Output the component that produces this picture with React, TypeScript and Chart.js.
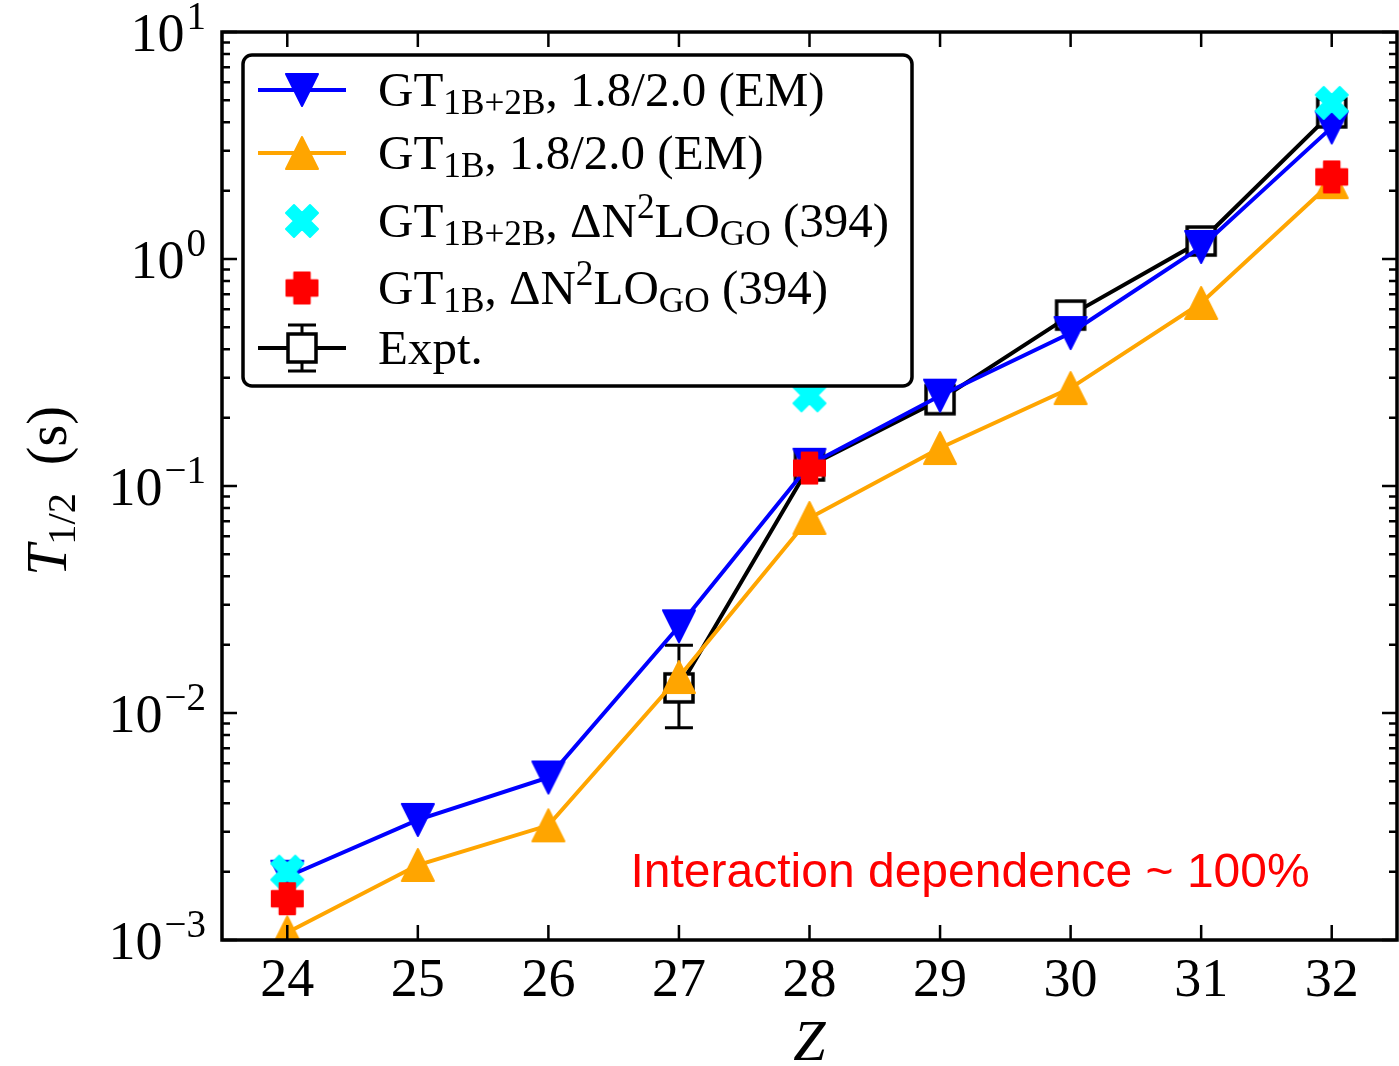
import React, { useEffect, useRef } from 'react';
import { Chart, registerables } from 'chart.js';

Chart.register(...registerables);

// ---------------- data ----------------
const zValues = [24, 25, 26, 27, 28, 29, 30, 31, 32];
const xTickValues = [24, 25, 26, 27, 28, 29, 30, 31, 32];
const yTickExponents = [-3, -2, -1, 0, 1];
const yMinorMultipliers = [2, 3, 4, 5, 6, 7, 8, 9];

const halfLifeGT1B2B_EM = [0.0019, 0.00338, 0.0052, 0.0241, 0.124, 0.25, 0.472, 1.13, 3.8];
const halfLifeGT1B_EM = [0.00108, 0.00214, 0.0032, 0.0144, 0.0723, 0.147, 0.27, 0.64, 2.18];
const halfLifeGT1B2B_Delta = [0.002, null, null, null, 0.251, null, null, null, 4.87];
const halfLifeGT1B_Delta = [0.00152, null, null, null, 0.12, null, null, null, 2.3];
const halfLifeExpt = [null, null, null, 0.0129, 0.1225, 0.24, 0.566, 1.2, 4.4];
const exptErrLower = [null, null, null, 0.0086, null, null, null, null, null];
const exptErrUpper = [null, null, null, 0.0199, null, null, null, null, null];

const datasetLabels = [
  'GT1B+2B, 1.8/2.0 (EM)',
  'GT1B, 1.8/2.0 (EM)',
  'GT1B+2B, ΔN2LOGO (394)',
  'GT1B, ΔN2LOGO (394)',
  'Expt.',
];

type Seg = { t: string; k?: 'sub' | 'sup' };
const legendRich: Seg[][] = [
  [{ t: 'GT' }, { t: '1B+2B', k: 'sub' }, { t: ', 1.8/2.0 (EM)' }],
  [{ t: 'GT' }, { t: '1B', k: 'sub' }, { t: ', 1.8/2.0 (EM)' }],
  [{ t: 'GT' }, { t: '1B+2B', k: 'sub' }, { t: ', ΔN' }, { t: '2', k: 'sup' }, { t: 'LO' }, { t: 'GO', k: 'sub' }, { t: ' (394)' }],
  [{ t: 'GT' }, { t: '1B', k: 'sub' }, { t: ', ΔN' }, { t: '2', k: 'sup' }, { t: 'LO' }, { t: 'GO', k: 'sub' }, { t: ' (394)' }],
  [{ t: 'Expt.' }],
];

const yTitle: Seg[] = [{ t: 'T' }, { t: '1/2', k: 'sub' }, { t: '  (s)' }];
const xTitle = 'Z';

const annotationText = 'Interaction dependence ~ 100%';
const annotationZ = 29.23;
const annotationT = 0.00195;

const BLUE = '#0000ff';
const ORANGE = '#ffa500';
const CYAN = '#00ffff';
const RED = '#ff0000';
const BLACK = '#000000';
const SERIF = '"Liberation Serif", "Times New Roman", serif';

// ---------------- marker images ----------------
function makeMarker(kind: string, color: string, size: number): HTMLCanvasElement {
  const pad = 4;
  const s = Math.ceil(size + pad * 2);
  const c = document.createElement('canvas');
  c.width = s;
  c.height = s;
  const ctx = c.getContext('2d') as CanvasRenderingContext2D;
  ctx.translate(s / 2, s / 2);
  const h = size / 2;
  const u = size / 4;
  ctx.beginPath();
  let pts: number[][] = [];
  if (kind === 'down') {
    pts = [[-h, -h], [h, -h], [0, h]];
  } else if (kind === 'up') {
    pts = [[-h, h], [h, h], [0, -h]];
  } else if (kind === 'plus') {
    pts = [[-1, -2], [-1, -1], [-2, -1], [-2, 1], [-1, 1], [-1, 2], [1, 2], [1, 1], [2, 1], [2, -1], [1, -1], [1, -2]].map((p) => [p[0] * u, p[1] * u]);
  } else if (kind === 'x') {
    pts = [[-1, -2], [0, -1], [1, -2], [2, -1], [1, 0], [2, 1], [1, 2], [0, 1], [-1, 2], [-2, 1], [-1, 0], [-2, -1]].map((p) => [p[0] * u, p[1] * u]);
  } else if (kind === 'square') {
    pts = [[-h, -h], [h, -h], [h, h], [-h, h]];
  }
  pts.forEach((p, i) => (i ? ctx.lineTo(p[0], p[1]) : ctx.moveTo(p[0], p[1])));
  ctx.closePath();
  if (kind === 'square') {
    ctx.fillStyle = '#ffffff';
    ctx.fill();
    ctx.lineWidth = 3.5;
    ctx.lineJoin = 'miter';
    ctx.strokeStyle = color;
    ctx.stroke();
  } else {
    ctx.fillStyle = color;
    ctx.fill();
    ctx.lineJoin = 'round';
    ctx.lineWidth = 2;
    ctx.strokeStyle = color;
    ctx.stroke();
  }
  return c;
}

function drawRich(ctx: CanvasRenderingContext2D, segs: Seg[], x: number, baseline: number, size: number, italicFirst = false) {
  let cx = x;
  segs.forEach((s, i) => {
    const fs = s.k ? size * 0.72 : size;
    const style = italicFirst && i === 0 ? 'italic ' : '';
    ctx.font = `${style}${fs}px ${SERIF}`;
    const dy = s.k === 'sub' ? size * 0.16 : s.k === 'sup' ? -size * 0.38 : 0;
    ctx.fillText(s.t, cx, baseline + dy);
    cx += ctx.measureText(s.t).width;
  });
  return cx - x;
}

function richWidth(ctx: CanvasRenderingContext2D, segs: Seg[], size: number, italicFirst = false) {
  let w = 0;
  segs.forEach((s, i) => {
    const fs = s.k ? size * 0.72 : size;
    const style = italicFirst && i === 0 ? 'italic ' : '';
    ctx.font = `${style}${fs}px ${SERIF}`;
    w += ctx.measureText(s.t).width;
  });
  return w;
}

export default function App() {
  const ref = useRef<HTMLCanvasElement | null>(null);

  useEffect(() => {
    const canvas = ref.current;
    if (!canvas) return;

    const mDown = makeMarker('down', BLUE, 32);
    const mUp = makeMarker('up', ORANGE, 32);
    const mX = makeMarker('x', CYAN, 32);
    const mPlus = makeMarker('plus', RED, 31);
    const mSquare = makeMarker('square', BLACK, 28);
    const legendMarkers = [mDown, mUp, mX, mPlus, mSquare];
    const legendColors = [BLUE, ORANGE, null, null, BLACK];

    const toPoints = (arr: (number | null)[]) => zValues.map((z, i) => ({ x: z, y: arr[i] }));

    const errorBars = {
      id: 'errorBars',
      beforeDatasetsDraw(chart: any) {
        const { ctx, scales } = chart;
        ctx.save();
        ctx.strokeStyle = BLACK;
        ctx.lineWidth = 3;
        zValues.forEach((z, i) => {
          const lo = exptErrLower[i];
          const hi = exptErrUpper[i];
          if (lo == null || hi == null) return;
          const px = scales.x.getPixelForValue(z);
          const y1 = scales.y.getPixelForValue(hi);
          const y2 = scales.y.getPixelForValue(lo);
          ctx.beginPath();
          ctx.moveTo(px, y1);
          ctx.lineTo(px, y2);
          ctx.moveTo(px - 14, y1);
          ctx.lineTo(px + 14, y1);
          ctx.moveTo(px - 14, y2);
          ctx.lineTo(px + 14, y2);
          ctx.stroke();
        });
        ctx.restore();
      },
    };

    const frame = {
      id: 'frame',
      afterDatasetsDraw(chart: any) {
        const { ctx, chartArea: a, scales } = chart;
        ctx.save();
        ctx.strokeStyle = BLACK;
        ctx.lineWidth = 2.5;
        const majorLen = 15;
        const minorLen = 8;
        ctx.beginPath();
        xTickValues.forEach((v) => {
          const px = scales.x.getPixelForValue(v);
          ctx.moveTo(px, a.bottom);
          ctx.lineTo(px, a.bottom - majorLen);
          ctx.moveTo(px, a.top);
          ctx.lineTo(px, a.top + majorLen);
        });
        yTickExponents.forEach((e) => {
          const py = scales.y.getPixelForValue(Math.pow(10, e));
          ctx.moveTo(a.left, py);
          ctx.lineTo(a.left + majorLen, py);
          ctx.moveTo(a.right, py);
          ctx.lineTo(a.right - majorLen, py);
        });
        yTickExponents.slice(0, -1).forEach((e) => {
          yMinorMultipliers.forEach((m) => {
            const py = scales.y.getPixelForValue(m * Math.pow(10, e));
            ctx.moveTo(a.left, py);
            ctx.lineTo(a.left + minorLen, py);
            ctx.moveTo(a.right, py);
            ctx.lineTo(a.right - minorLen, py);
          });
        });
        ctx.stroke();
        ctx.lineWidth = 3.5;
        ctx.strokeRect(a.left, a.top, a.right - a.left, a.bottom - a.top);

        // y tick labels with superscripts
        ctx.fillStyle = BLACK;
        ctx.textBaseline = 'alphabetic';
        ctx.textAlign = 'left';
        yTickExponents.forEach((e) => {
          const py = scales.y.getPixelForValue(Math.pow(10, e));
          const base = '10';
          const sup = e < 0 ? '\u2212' + String(-e) : String(e);
          ctx.font = `54px ${SERIF}`;
          const bw = ctx.measureText(base).width;
          ctx.font = `39px ${SERIF}`;
          const sw = ctx.measureText(sup).width;
          const right = a.left - 16;
          const x0 = right - sw - bw - 2;
          ctx.font = `54px ${SERIF}`;
          ctx.fillText(base, x0, py + 19);
          ctx.font = `39px ${SERIF}`;
          ctx.fillText(sup, x0 + bw + 2, py - 3);
        });

        // y title
        const tsize = 56;
        const tw = richWidth(ctx, yTitle, tsize, true);
        ctx.save();
        ctx.translate(66, (a.top + a.bottom) / 2 + 5);
        ctx.rotate(-Math.PI / 2);
        drawRich(ctx, yTitle, -tw / 2, 0, tsize, true);
        ctx.restore();
        ctx.restore();
      },
    };

    const overlay = {
      id: 'overlay',
      afterDraw(chart: any) {
        const { ctx, scales } = chart;
        ctx.save();
        // annotation
        ctx.fillStyle = RED;
        ctx.font = `48px "Liberation Sans", Arial, sans-serif`;
        ctx.textAlign = 'center';
        ctx.textBaseline = 'middle';
        ctx.fillText(annotationText, scales.x.getPixelForValue(annotationZ), scales.y.getPixelForValue(annotationT));

        // legend
        const bx = 243, by = 55, bw = 669, bh = 331;
        ctx.beginPath();
        ctx.roundRect(bx, by, bw, bh, 9);
        ctx.fillStyle = '#ffffff';
        ctx.fill();
        ctx.lineWidth = 3.5;
        ctx.strokeStyle = BLACK;
        ctx.stroke();
        const rows = [90, 153, 221, 288, 348];
        ctx.textAlign = 'left';
        ctx.textBaseline = 'alphabetic';
        rows.forEach((yc, i) => {
          const col = legendColors[i];
          if (i === 4) {
            ctx.strokeStyle = BLACK;
            ctx.lineWidth = 3;
            ctx.beginPath();
            ctx.moveTo(302, yc - 23);
            ctx.lineTo(302, yc + 23);
            ctx.moveTo(288, yc - 23);
            ctx.lineTo(316, yc - 23);
            ctx.moveTo(288, yc + 23);
            ctx.lineTo(316, yc + 23);
            ctx.stroke();
          }
          if (col) {
            ctx.strokeStyle = col;
            ctx.lineWidth = 4;
            ctx.beginPath();
            ctx.moveTo(258, yc);
            ctx.lineTo(346, yc);
            ctx.stroke();
          }
          const m = legendMarkers[i];
          ctx.drawImage(m, 302 - m.width / 2, yc - m.height / 2);
          ctx.fillStyle = BLACK;
          drawRich(ctx, legendRich[i], 378, yc + 16, 49);
        });
        ctx.restore();
      },
    };

    const chart = new Chart(canvas, {
      type: 'line',
      data: {
        datasets: [
          {
            label: datasetLabels[0],
            data: toPoints(halfLifeGT1B2B_EM),
            borderColor: BLUE,
            backgroundColor: BLUE,
            borderWidth: 4,
            pointStyle: mDown,
            pointRadius: 17,
            order: 2,
          },
          {
            label: datasetLabels[1],
            data: toPoints(halfLifeGT1B_EM),
            borderColor: ORANGE,
            backgroundColor: ORANGE,
            borderWidth: 4,
            pointStyle: mUp,
            pointRadius: 17,
            order: 3,
          },
          {
            label: datasetLabels[2],
            data: toPoints(halfLifeGT1B2B_Delta),
            borderColor: CYAN,
            backgroundColor: CYAN,
            showLine: false,
            pointStyle: mX,
            pointRadius: 17,
            order: 1,
          },
          {
            label: datasetLabels[3],
            data: toPoints(halfLifeGT1B_Delta),
            borderColor: RED,
            backgroundColor: RED,
            showLine: false,
            pointStyle: mPlus,
            pointRadius: 17,
            order: 0,
          },
          {
            label: datasetLabels[4],
            data: toPoints(halfLifeExpt),
            borderColor: BLACK,
            backgroundColor: '#ffffff',
            borderWidth: 4,
            pointStyle: mSquare,
            pointRadius: 17,
            spanGaps: false,
            order: 4,
          },
        ] as any,
      },
      options: {
        responsive: false,
        animation: false,
        devicePixelRatio: 1,
        events: [],
        layout: { autoPadding: false, padding: { top: 32, right: 2, left: 0, bottom: 0 } },
        plugins: { legend: { display: false }, tooltip: { enabled: false } },
        scales: {
          x: {
            type: 'linear',
            min: 23.5,
            max: 32.5,
            afterBuildTicks: (s: any) => {
              s.ticks = xTickValues.map((v) => ({ value: v }));
            },
            afterFit: (s: any) => {
              s.height = 126;
              s.paddingLeft = 0;
              s.paddingRight = 0;
            },
            grid: { display: false, drawTicks: false },
            border: { display: false },
            ticks: {
              color: BLACK,
              font: { family: SERIF, size: 54 },
              padding: 9,
              autoSkip: false,
              maxRotation: 0,
              callback: (v: any) => String(v),
            },
            title: {
              display: true,
              text: xTitle,
              color: BLACK,
              font: { family: SERIF, size: 58, style: 'italic', lineHeight: 0.72 },
              padding: { top: 0, bottom: 0 },
            },
          },
          y: {
            type: 'logarithmic',
            min: 1e-3,
            max: 10,
            afterBuildTicks: (s: any) => {
              s.ticks = yTickExponents.map((e) => ({ value: Math.pow(10, e) }));
            },
            afterFit: (s: any) => {
              s.width = 222;
            },
            grid: { display: false, drawTicks: false },
            border: { display: false },
            ticks: { display: false },
          },
        },
      } as any,
      plugins: [errorBars, frame, overlay],
    });

    return () => chart.destroy();
  }, []);

  return (
    <div style={{ position: 'absolute', left: 0, top: 0, width: 1399, height: 1066, background: '#ffffff' }}>
      <canvas ref={ref} width={1399} height={1066} style={{ display: 'block' }} />
    </div>
  );
}
